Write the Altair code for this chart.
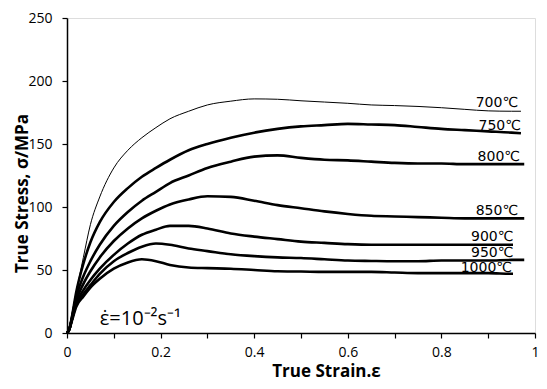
import altair as alt
import pandas as pd

STRAIN = [0, 0.005, 0.01, 0.02, 0.035, 0.05, 0.07, 0.1, 0.13, 0.16, 0.19, 0.22, 0.26, 0.3,
          0.35, 0.4, 0.45, 0.5, 0.55, 0.6, 0.65, 0.7, 0.75, 0.8, 0.85, 0.9, 0.95]

TEMPS = ["700℃", "750℃", "800℃", "850℃", "900℃", "950℃", "1000℃"]

S700 = [0, 4, 14, 33, 60, 86, 108, 131, 145, 155, 163, 170, 176, 181,
        184, 185.8, 185.5, 184.3, 183.3, 182.3, 181, 180.5, 179.8, 178.8, 177.5, 176.3, 176]
S750 = [0, 3, 12, 33, 55, 72, 88, 104, 115, 124, 131, 137.5, 145, 150,
        155, 159, 162, 164, 165, 166, 165.5, 165, 163.5, 162, 161, 160, 159]
S800 = [0, 3, 11, 29, 45, 57, 70, 85, 96, 105, 112, 119, 125, 131,
        136, 140, 141, 139, 137.5, 137, 136, 135, 134.5, 134.5, 134, 134, 134]
S850 = [0, 3, 10, 26, 39, 49, 60, 73, 83, 91, 97, 102, 106, 108.5,
        108, 105, 101.5, 99, 96.5, 94.5, 93, 92.5, 92, 91.5, 91, 91, 91]
S900 = [0, 3, 10, 24, 34, 42, 51, 62, 71, 78, 82, 85, 85, 83,
        79, 76.5, 74.5, 72.5, 71.5, 70.5, 70, 70, 70, 70, 70, 70, 70]
S950 = [0, 3, 10, 23, 31, 38, 47, 57, 63.5, 68.5, 71, 70, 67, 65,
        62.5, 61, 60, 59.5, 58.5, 57.5, 57.2, 57, 57, 57.5, 57.5, 57.5, 58]
S1000 = [0, 3, 9, 21, 29, 36, 43, 51, 56, 58.5, 57, 54, 52, 51.5,
         51, 50, 49, 48.8, 48.5, 48.5, 48.5, 48, 47.5, 47.5, 47.5, 47.5, 47]

END_STRAIN = [0.97, 0.97, 0.977, 0.977, 0.953, 0.977, 0.953]
END_STRESS = [176, 158.5, 134, 91, 70, 58, 47]

LABEL_X = [0.964, 0.970, 0.968, 0.964, 0.954, 0.954, 0.951]
LABEL_Y = [182.7, 164, 139.6, 97, 76.3, 63.7, 51.8]

SERIES = [S700, S750, S800, S850, S900, S950, S1000]

rows = []
for t, vals, ex, ey in zip(TEMPS, SERIES, END_STRAIN, END_STRESS):
    for x, y in zip(STRAIN, vals):
        if x <= ex:
            rows.append({"temp": t, "strain": x, "stress": y})
    rows.append({"temp": t, "strain": ex, "stress": ey})
df = pd.DataFrame(rows)

labels = pd.DataFrame({"temp": TEMPS, "x": LABEL_X, "y": LABEL_Y})
note = pd.DataFrame({"x": [0.07], "y": [6.3], "t": ["ε̇=10⁻²s⁻¹"]})

x_ticks = [round(i * 0.1, 1) for i in range(11)]
y_ticks = [i * 12.5 for i in range(21)]

xscale = alt.Scale(domain=[0, 1], nice=False)
yscale = alt.Scale(domain=[0, 250], nice=False)

xaxis = alt.Axis(values=x_ticks, format="~g",
                 labelExpr="round(datum.value*10) % 2 == 0 ? datum.label : ''",
                 title="True Strain.ε", titleFont="Open Sans", titleFontSize=17,
                 titleFontWeight="bold", titleX=259, titleY=43, titleAnchor="middle",
                 titleBaseline="alphabetic",
                 labelFont="Open Sans", labelFontSize=14, labelColor="black",
                 labelPadding=7, tickSize=5, tickColor="black", domainColor="black",
                 domainWidth=1.5, tickWidth=1.2, grid=False, labelFlush=False,
                 labelOverlap=False)
yaxis = alt.Axis(values=y_ticks,
                 labelExpr="datum.value % 25 == 0 ? datum.label : ''",
                 title="True Stress, σ/MPa", titleFont="Open Sans", titleFontSize=17,
                 titleFontWeight="bold", titleX=-40, titleY=175, titleAnchor="middle",
                 titleBaseline="alphabetic",
                 labelFont="Open Sans", labelFontSize=14, labelColor="black",
                 labelPadding=10, tickSize=5, tickColor="black", domainColor="black",
                 domainWidth=1.5, tickWidth=1.2, grid=False, labelFlush=False,
                 labelOverlap=False)

base = alt.Chart(df).encode(
    x=alt.X("strain:Q", scale=xscale, axis=xaxis),
    y=alt.Y("stress:Q", scale=yscale, axis=yaxis),
    detail="temp:N",
)

thin = base.transform_filter(alt.datum.temp == "700℃").mark_line(
    color="black", strokeWidth=1, interpolate="monotone")
thick = base.transform_filter(alt.datum.temp != "700℃").mark_line(
    color="black", strokeWidth=2.6, interpolate="monotone")

lab = alt.Chart(labels).mark_text(
    align="right", baseline="middle", font="DejaVu Sans", fontSize=14, color="black"
).encode(x=alt.X("x:Q", scale=xscale), y=alt.Y("y:Q", scale=yscale), text="temp:N")

nt = alt.Chart(note).mark_text(
    align="left", baseline="alphabetic", font="Open Sans", fontSize=20, color="black"
).encode(x=alt.X("x:Q", scale=xscale), y=alt.Y("y:Q", scale=yscale), text="t:N")

chart = alt.layer(thin, thick, lab, nt).properties(
    width=468, height=315,
    autosize=alt.AutoSizeParams(type="none"),
    padding={"left": 59, "top": 10, "right": 4, "bottom": 48},
).configure_view(stroke="black", strokeWidth=1.5).configure(background="white")

chart.save("out.html", embed_options={"renderer": "svg", "actions": False})
